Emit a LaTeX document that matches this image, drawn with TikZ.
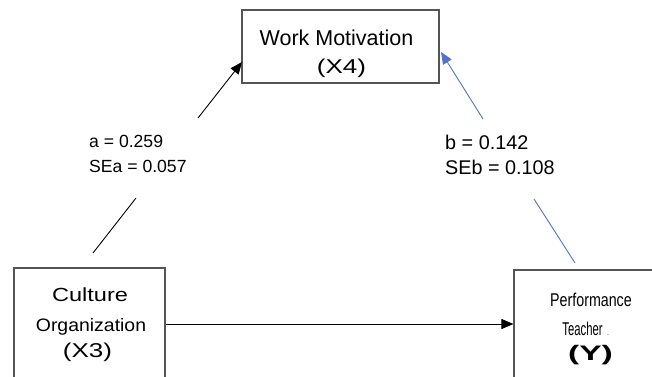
\documentclass[tikz,border=0pt]{standalone}
\usepackage{fontspec}
\setmainfont{Liberation Sans}
\usetikzlibrary{arrows.meta}
\definecolor{boxgray}{HTML}{555555}
\definecolor{pathblue}{HTML}{4F74C8}
\newcommand{\fs}[1]{\fontsize{#1}{#1}\selectfont}
\tikzset{
  varbox/.style={draw=boxgray, line width=1.1pt, fill=none, inner sep=0pt},
  txt/.style={inner sep=0pt, anchor=base},
  lbl/.style={inner sep=0pt, anchor=base west},
  patha/.style={black, line width=0.9pt},
  pathb/.style={pathblue, line width=0.9pt},
  tipk/.style={-{Triangle[length=12pt,width=10pt]}},
}
\begin{document}
\begin{tikzpicture}[x=1pt,y=1pt]
\useasboundingbox (0,0) rectangle (652,376);

% variable boxes (the lower two run past the bottom edge)
\node[varbox, minimum width=197pt, minimum height=73pt] (mot) at (340.5,329.5) {};
\node[varbox, minimum width=151pt, minimum height=113pt] (cul) at (89.5,51.5) {};
\node[varbox, minimum width=146pt, minimum height=111pt] (perf) at (587,50.5) {};

% box texts
\node[txt] (motA) at (336.5,331) {\fs{21.5}Work Motivation};
\node[txt] (motB) at (341.5,302.5) {\fs{20}\scalebox{1.3}[1]{(X4)}};
\node[txt] (culA) at (90,74.3) {\fs{19}\scalebox{1.24}[1]{Culture}};
\node[txt] (culB) at (91,44.3) {\fs{18}\scalebox{1.08}[1]{Organization}};
\node[txt] (culC) at (87.5,19) {\fs{20}\scalebox{1.3}[1]{(X3)}};
\node[txt] (perfA) at (591,69.3) {\fs{18.5}\scalebox{0.77}[1]{Performance}};
\node[txt] (perfB) at (582.5,41) {\fs{18.5}\scalebox{0.61}[1]{Teacher}};
\node[txt] (perfDot) at (608,41) {\fs{7}.};
\node[txt] (perfC) at (590.5,16) {\fs{21}\bfseries\scalebox{1.6}[1]{(Y)}};

% path coefficients
\node[lbl] (a1) at (89,229) {\fs{17.6}a = 0.259};
\node[lbl] (a2) at (89,204) {\fs{17.6}SEa = 0.057};
\node[lbl] (b1) at (445,227) {\fs{19.8}b = 0.142};
\node[lbl] (b2) at (445,202) {\fs{19.8}SEb = 0.108};

% break points of the interrupted paths
\coordinate (pa0) at (93,123);
\coordinate (pa1) at (136,178);
\coordinate (pa2) at (198,258);
\coordinate (pa3) at (242,314);
\coordinate (pb0) at (575,113);
\coordinate (pb1) at (534,177);
\coordinate (pb2) at (483,257);
\coordinate (pb3) at (441,324);

% a path: culture -> motivation
\draw[patha] (pa0) -- (pa1);
\draw[patha, tipk] (pa2) -- (pa3);
% b path: performance -> motivation
\draw[pathb] (pb0) -- (pb1);
\draw[pathb, tipk] (pb2) -- (pb3);
% direct path
\draw[patha, tipk] (cul.east |- 0,52) -- (perf.west |- 0,52);
\end{tikzpicture}
\end{document}
